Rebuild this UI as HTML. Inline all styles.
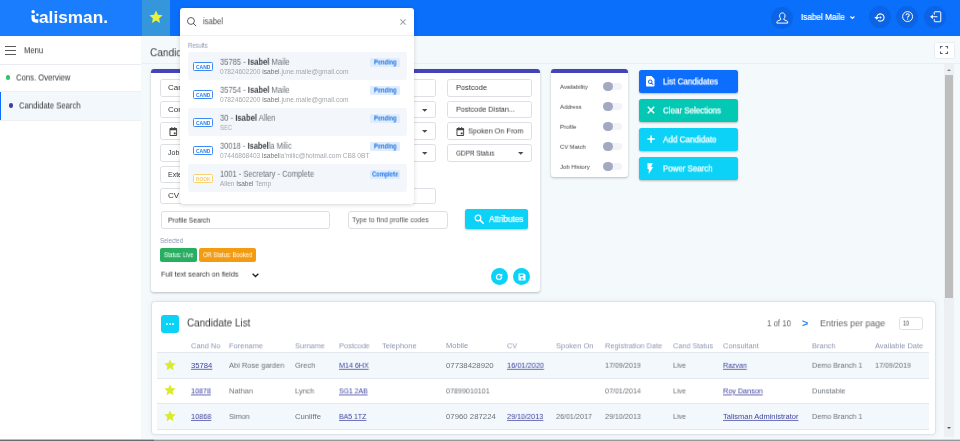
<!DOCTYPE html>
<html><head><meta charset="utf-8"><title>Talisman - Candidate Search</title>
<style>
*{box-sizing:border-box;margin:0;padding:0}
html,body{width:960px;height:441px;overflow:hidden;background:#f4f9fc;font-family:"Liberation Sans",sans-serif}
#app{position:relative;width:960px;height:441px;overflow:hidden}
.t{will-change:transform}
.a{position:absolute}
.t{position:absolute;z-index:2;white-space:nowrap;transform-origin:0 50%;display:block}
.t b{font-weight:700;color:#3c4148}
.t b.s{color:#70757c;font-weight:400}
.inp{position:absolute;background:#fff;border:1px solid #dcdfe3;border-radius:2.5px}
.card{position:absolute;background:#fff;border-radius:3px;box-shadow:0 1px 2.5px rgba(0,0,0,.25)}
.bar{position:absolute;left:0;top:0;right:0;height:3.5px;background:#4444b9;border-radius:3px 3px 0 0}
.btn{position:absolute;border-radius:2.5px;box-shadow:0 1px 2px rgba(0,0,0,.25)}
.rowbg{position:absolute;left:187.5px;width:219.5px;height:27.8px;background:#f3f6fb;border-radius:3px}
.cand{position:absolute;left:193px;width:20px;height:9px;border:1px solid #3d8bf2;border-radius:1.5px;background:#fff}
.pill{position:absolute;left:370.3px;width:29.7px;height:8.8px;background:#e0ecfc;border-radius:1.5px}
.tog{position:absolute;left:606px;width:16px;height:6.5px;background:#f1f3f8;border-radius:4px}
.knob{position:absolute;left:603px;width:9.5px;height:9.5px;background:#a2a9c1;border-radius:50%}
.circ{position:absolute;width:22px;height:22px;border-radius:50%;background:#0b63e6}
.trow{position:absolute;left:158px;width:771px;height:25.5px;border-bottom:1px solid #e4e9ee}
.caret{position:absolute;width:0;height:0;border-left:2.9px solid transparent;border-right:2.9px solid transparent;border-top:2.9px solid #4a4a4a}
svg{position:absolute;overflow:visible}
</style></head><body><div id="app">
<div class="a" style="left:0;top:0;width:960px;height:441px;z-index:1">
<div class="a" style="left:0;top:0;width:960px;height:36px;background:#0a6ffb"></div>
<div class="a" style="left:0;top:0;width:142px;height:36px;background:#1a7dfe"></div>
<div class="a" style="left:142px;top:0;width:28px;height:36px;background:#3596dc"></div>
<svg style="left:148.9px;top:10.4px" width="14" height="14" viewBox="0 0 24 24"><path fill="#e9f23a" d="M12 0.8l3.3 7.4 8 .8-6 5.4 1.7 7.9L12 18.2 5 22.3l1.7-7.9-6-5.4 8-.8z"/></svg>
<svg style="left:0;top:0" width="50" height="36" viewBox="0 0 50 36"><circle cx="33.1" cy="11.8" r="1.75" fill="#fff"/><circle cx="37.4" cy="14.800" r="1.300" fill="#fff"/><path d="M33.1 14.9V18Q33.100 21 36.100 21H38.300" fill="none" stroke="#fff" stroke-width="3.300"/></svg>
<div class="circ" style="left:771px;top:6.600000000000001px"></div>
<div class="circ" style="left:868.8px;top:6.100000000000001px"></div>
<div class="circ" style="left:896.3px;top:6.100000000000001px"></div>
<div class="circ" style="left:924px;top:6.100000000000001px"></div>
<svg style="left:776px;top:11.5px" width="12" height="12" viewBox="0 0 12 12"><path fill="none" stroke="#fff" stroke-width="1" stroke-linejoin="round" d="M6.3 0.9c1.7 0 2.7 1.2 2.7 3 0 1.300-0.500 2.300-1.200 3v0.700l3.300 1.500c0.400 0.200 0.600 0.500 0.600 0.900v1.100H0.900v-1.100c0-0.400 0.200-0.700 0.600-0.900l3.300-1.500v-0.700c-0.700-0.700-1.200-1.700-1.200-3 0-1.800 1-3 2.700-3z"/></svg>
<svg style="left:849.8px;top:16px" width="4.8" height="3.2" viewBox="0 0 4.8 3.2"><path fill="none" stroke="#fff" stroke-width="1.1" d="M0.400 0.500L2.400 2.500L4.400 0.500"/></svg>
<svg style="left:873.8px;top:11.5px" width="11" height="11" viewBox="0 0 22 22"><path fill="none" stroke="#fff" stroke-width="2.2" d="M5.500 11a7.300 7.300 0 1 1 2.600 5.600"/><path fill="#fff" d="M0.500 10h10l-5 5.500z"/><circle cx="12.800" cy="11" r="2.100" fill="#fff"/></svg>
<svg style="left:901.8px;top:11.4px" width="11.2" height="11.2" viewBox="0 0 22 22"><circle cx="11" cy="11" r="9.800" fill="none" stroke="#fff" stroke-width="1.900"/><path fill="none" stroke="#fff" stroke-width="2" d="M7.800 8.600c0-1.900 1.400-3 3.200-3s3.200 1.100 3.200 2.800c0 2.200-3.200 2.500-3.200 4.900"/><rect x="10" y="14.800" width="2.100" height="2.200" fill="#fff"/></svg>
<svg style="left:929.500px;top:11.2px" width="11.500" height="11.500" viewBox="0 0 23 23"><path fill="none" stroke="#fff" stroke-width="2" stroke-linejoin="round" d="M8.500 7V2.800a1.300 1.300 0 0 1 1.300-1.300h10.400a1.300 1.300 0 0 1 1.300 1.300v17.400a1.300 1.300 0 0 1-1.300 1.300H9.800a1.300 1.300 0 0 1-1.300-1.300V16"/><path fill="none" stroke="#fff" stroke-width="2" d="M15 11.500H4"/><path fill="#fff" d="M0.300 11.500L5.800 6.800v9.400z"/></svg>
<div class="a" style="left:0;top:36px;width:141px;height:405px;background:#fff"></div>
<div class="a" style="left:0;top:64px;width:141px;height:1px;background:#e9edf1"></div>
<div class="a" style="left:0;top:91px;width:141px;height:1px;background:#eef1f4"></div>
<div class="a" style="left:0;top:92px;width:141px;height:28px;background:#f3f8fd"></div>
<div class="a" style="left:0;top:92px;width:1px;height:28px;background:#0d6efd"></div>
<div class="a" style="left:0;top:120px;width:141px;height:1px;background:#eef1f4"></div>
<div class="a" style="left:4.5px;top:46px;width:11.2px;height:1px;background:#5a5a5a"></div>
<div class="a" style="left:4.5px;top:50px;width:11.2px;height:1px;background:#5a5a5a"></div>
<div class="a" style="left:4.5px;top:54px;width:11.2px;height:1px;background:#5a5a5a"></div>
<div class="a" style="left:5.9px;top:75.3px;width:4.6px;height:4.6px;border-radius:50%;background:#27c46b"></div>
<div class="a" style="left:8.6px;top:103.3px;width:4.6px;height:4.6px;border-radius:50%;background:#3b3fa8"></div>
<div class="a" style="left:142px;top:62.5px;width:818px;height:1px;background:#eaeff4"></div>
<div class="a" style="left:933.5px;top:41.5px;width:21px;height:17px;background:#fff;border:1px solid #e9edf1;border-radius:1.5px"></div>
<svg style="left:940px;top:46px" width="8" height="8" viewBox="0 0 8 8"><path fill="none" stroke="#56627a" stroke-width="1.1" d="M0.5 2.6V0.5H2.6M5.4 0.5H7.5V2.6M7.5 5.4V7.5H5.4M2.6 7.5H0.5V5.4"/></svg>
<div class="a" style="left:944.3px;top:64px;width:10px;height:373px;background:#edf0f2"></div>
<div class="a" style="left:945.2px;top:75px;width:7.8px;height:223px;background:#bdbdbd"></div>
<div class="a" style="left:946.8px;top:68.5px;border-left:2.4px solid transparent;border-right:2.4px solid transparent;border-bottom:2.6px solid #888;width:0;height:0"></div>
<div class="a" style="left:946.8px;top:426.5px;border-left:2.4px solid transparent;border-right:2.4px solid transparent;border-top:2.6px solid #555;width:0;height:0"></div>
<div class="card" style="left:151px;top:69px;width:389px;height:223px"><div class="bar"></div></div>
<div class="inp" style="left:160px;top:79px;width:130px;height:17.7px"></div>
<div class="inp" style="left:303px;top:79px;width:132.8px;height:17.7px"></div>
<div class="inp" style="left:160px;top:100.7px;width:130px;height:17.7px"></div>
<div class="inp" style="left:303px;top:100.7px;width:132.8px;height:17.7px"></div>
<div class="inp" style="left:160px;top:122.4px;width:130px;height:17.7px"></div>
<div class="inp" style="left:303px;top:122.4px;width:132.8px;height:17.7px"></div>
<div class="inp" style="left:160px;top:144.1px;width:130px;height:17.7px"></div>
<div class="inp" style="left:303px;top:144.1px;width:132.8px;height:17.7px"></div>
<div class="inp" style="left:160px;top:165.8px;width:130px;height:17.7px"></div>
<div class="inp" style="left:160px;top:187.5px;width:275.8px;height:16.5px"></div>
<div class="inp" style="left:447px;top:79px;width:85px;height:17.7px"></div>
<div class="inp" style="left:447px;top:100.7px;width:85px;height:17.7px"></div>
<div class="inp" style="left:447px;top:122.4px;width:85px;height:17.7px"></div>
<div class="inp" style="left:447px;top:144.1px;width:85px;height:17.7px"></div>
<svg style="left:422px;top:108.60000000000001px" width="5.4" height="2.8" viewBox="0 0 5.4 2.8"><path fill="#4a4a4a" d="M0 0H5.400L2.700 2.800z"/></svg>
<svg style="left:422px;top:130.3px" width="5.4" height="2.8" viewBox="0 0 5.4 2.8"><path fill="#4a4a4a" d="M0 0H5.400L2.700 2.800z"/></svg>
<svg style="left:422px;top:152.0px" width="5.4" height="2.8" viewBox="0 0 5.4 2.8"><path fill="#4a4a4a" d="M0 0H5.400L2.700 2.800z"/></svg>
<svg style="left:517.7px;top:152.0px" width="5.4" height="2.8" viewBox="0 0 5.4 2.8"><path fill="#4a4a4a" d="M0 0H5.400L2.700 2.800z"/></svg>
<svg style="left:169px;top:126.7px" width="8.6" height="9" viewBox="0 0 18 20" preserveAspectRatio="none"><path fill="#444" fill-rule="evenodd" d="M3 2h2V0h2v2h4V0h2v2h2a2 2 0 0 1 2 2v14a2 2 0 0 1-2 2H3a2 2 0 0 1-2-2V4a2 2 0 0 1 2-2zm0 5v11h12V7zm7 5h4v4h-4z"/></svg>
<svg style="left:455.8px;top:126.7px" width="8.6" height="9" viewBox="0 0 18 20" preserveAspectRatio="none"><path fill="#444" fill-rule="evenodd" d="M3 2h2V0h2v2h4V0h2v2h2a2 2 0 0 1 2 2v14a2 2 0 0 1-2 2H3a2 2 0 0 1-2-2V4a2 2 0 0 1 2-2zm0 5v11h12V7zm7 5h4v4h-4z"/></svg>
<div class="inp" style="left:161px;top:211px;width:169px;height:17.7px"></div>
<div class="inp" style="left:348.3px;top:211px;width:99.5px;height:17.7px;border-radius:3px"></div>
<div class="btn" style="left:465.3px;top:209px;width:62.5px;height:20px;background:#0dd2f7"></div>
<svg style="left:474px;top:214px" width="10" height="10" viewBox="0 0 20 20"><circle cx="8" cy="8" r="5.6" fill="none" stroke="#fff" stroke-width="2.6"/><path d="M12.2 12.2L18.5 18.5" stroke="#fff" stroke-width="3" stroke-linecap="round"/></svg>
<div class="a" style="left:159.8px;top:248.2px;width:37.5px;height:13.6px;background:#27ae60;border-radius:2px"></div>
<div class="a" style="left:198.8px;top:248.2px;width:57.7px;height:13.6px;background:#f39c12;border-radius:2px"></div>
<svg style="left:251.6px;top:272.9px" width="7" height="4.3" viewBox="0 0 6.6 4"><path d="M0.6 0.6L3.3 3.2L6 0.6" fill="none" stroke="#222" stroke-width="1.3"/></svg>
<div class="a" style="left:490.8px;top:268.3px;width:17px;height:17px;border-radius:50%;background:#0dd2f7"></div>
<div class="a" style="left:513.2px;top:268.3px;width:17px;height:17px;border-radius:50%;background:#0dd2f7"></div>
<svg style="left:495.3px;top:272.8px" width="8" height="8" viewBox="0 0 16 16"><path fill="none" stroke="#fff" stroke-width="2.6" d="M13.2 8a5.2 5.2 0 1 1-1.6-3.8"/><path fill="#fff" d="M14.5 1v6h-6z"/></svg>
<svg style="left:517.7px;top:272.8px" width="8" height="8" viewBox="0 0 16 16"><path fill="#fff" fill-rule="evenodd" d="M2 1h10l3 3v10a1 1 0 0 1-1 1H2a1 1 0 0 1-1-1V2a1 1 0 0 1 1-1zm1.5 2v3.5h7V3zm4.5 6a2.2 2.2 0 1 0 0 4.4 2.2 2.2 0 0 0 0-4.4z"/></svg>
<div class="card" style="left:551px;top:69px;width:77px;height:108.4px"><div class="bar"></div></div>
<div class="tog" style="top:83.35px"></div>
<div class="knob" style="top:81.85px"></div>
<div class="tog" style="top:103.35px"></div>
<div class="knob" style="top:101.85px"></div>
<div class="tog" style="top:123.35px"></div>
<div class="knob" style="top:121.85px"></div>
<div class="tog" style="top:143.35px"></div>
<div class="knob" style="top:141.85px"></div>
<div class="tog" style="top:163.35px"></div>
<div class="knob" style="top:161.85px"></div>
<div class="btn" style="left:639px;top:70px;width:98.6px;height:23px;background:#0d6efd"></div>
<div class="btn" style="left:639px;top:99px;width:98.6px;height:23px;background:#03c9b4"></div>
<div class="btn" style="left:639px;top:128px;width:98.6px;height:23px;background:#0dd2f7"></div>
<div class="btn" style="left:639px;top:157px;width:98.6px;height:23px;background:#0dd2f7"></div>
<svg style="left:645.5px;top:76px" width="9" height="10.5" viewBox="0 0 18 21"><path fill="#fff" fill-rule="evenodd" d="M2 0h9l6 6v13a2 2 0 0 1-2 2H2a2 2 0 0 1-2-2V2a2 2 0 0 1 2-2zm6.5 7a4.5 4.5 0 1 0 2.4 8.3l2.6 2.6 1.4-1.4-2.6-2.6A4.5 4.5 0 0 0 8.500 7zm0 2a2.500 2.500 0 1 1 0 5 2.500 2.500 0 0 1 0-5z"/></svg>
<svg style="left:646.7px;top:106.1px" width="8" height="8" viewBox="0 0 10 10"><path d="M1 1L9 9M9 1L1 9" stroke="#fff" stroke-width="1.9" stroke-linecap="butt"/></svg>
<svg style="left:646.6px;top:135px" width="8.2" height="8.2" viewBox="0 0 10 10"><path d="M5 0.500V9.500M0.500 5H9.500" stroke="#fff" stroke-width="1.9"/></svg>
<svg style="left:647px;top:162.500px" width="6.5" height="11" viewBox="0 0 13 22"><path fill="#fff" d="M1 0h10.500L8 8h4.500L3.500 22V12H1z"/></svg>
<div class="card" style="left:152px;top:302px;width:783px;height:132.4px;box-shadow:0 0 0 1px rgba(160,175,190,.18),0 0 5px 1px rgba(120,140,160,.13)"></div>
<div class="a" style="left:161px;top:315px;width:17.7px;height:17.8px;background:#0dd2f7;border-radius:3px"></div>
<div class="a" style="left:166.1px;top:323px;width:2.1px;height:2.1px;border-radius:50%;background:#fff"></div>
<div class="a" style="left:169.1px;top:323px;width:2.1px;height:2.1px;border-radius:50%;background:#fff"></div>
<div class="a" style="left:172.1px;top:323px;width:2.1px;height:2.1px;border-radius:50%;background:#fff"></div>
<div class="a" style="left:157px;top:352px;width:772px;height:26px;background:#f3f8fc"></div>
<div class="a" style="left:157px;top:404px;width:772px;height:25px;background:#f3f8fc"></div>
<div class="a" style="left:157px;top:352px;width:772px;height:1px;background:#e2e8ed"></div>
<div class="a" style="left:157px;top:378px;width:772px;height:1px;background:#e2e8ed"></div>
<div class="a" style="left:157px;top:403px;width:772px;height:1px;background:#e2e8ed"></div>
<div class="a" style="left:157px;top:429px;width:772px;height:1px;background:#e2e8ed"></div>
<svg style="left:164.2px;top:358.6px" width="12" height="12" viewBox="0 0 24 24"><path fill="#d9eb2c" d="M12 0.800l3.300 7.400 8 .8-6 5.400 1.700 7.900L12 18.200 5 22.300l1.700-7.900-6-5.400 8-.8z"/></svg>
<svg style="left:164.2px;top:384.2px" width="12" height="12" viewBox="0 0 24 24"><path fill="#d9eb2c" d="M12 0.800l3.300 7.400 8 .8-6 5.400 1.700 7.900L12 18.200 5 22.300l1.700-7.900-6-5.400 8-.8z"/></svg>
<svg style="left:164.2px;top:409.7px" width="12" height="12" viewBox="0 0 24 24"><path fill="#d9eb2c" d="M12 0.800l3.300 7.400 8 .8-6 5.400 1.700 7.900L12 18.200 5 22.300l1.700-7.900-6-5.400 8-.8z"/></svg>
<div class="inp" style="left:899.2px;top:317.4px;width:23.4px;height:12.2px;border-radius:2.5px"></div>
<div class="a" style="left:0;top:439px;width:960px;height:1px;background:#d3d5d6"></div>
<div class="a" style="left:0;top:439px;width:154px;height:1px;background:#bdbdbd"></div>
<div class="a" style="left:0;top:440px;width:960px;height:1px;background:#979797"></div>
<div class="a" style="left:0;top:440px;width:154px;height:1px;background:#6b6b6b"></div>
</div>
<div class="a" style="left:0;top:0;width:960px;height:441px;z-index:10">
<div class="a" style="left:180px;top:8.4px;width:234px;height:195.400px;background:#fff;border-radius:3px;box-shadow:0 1px 4px rgba(0,0,0,.16)"></div>
<div class="a" style="left:180px;top:35px;width:234px;height:1px;background:#eef0f3"></div>
<svg style="left:186.8px;top:16.8px" width="9.4" height="9.4" viewBox="0 0 18 18"><circle cx="7.6" cy="7.6" r="6.6" fill="none" stroke="#333" stroke-width="1.5"/><path d="M12.2 12.2L17 17" stroke="#333" stroke-width="1.6" stroke-linecap="round"/></svg>
<svg style="left:400.2px;top:18.6px" width="6" height="6" viewBox="0 0 6 6"><path d="M0.4 0.4L5.6 5.6M5.6 0.4L0.4 5.6" stroke="#a3a7ad" stroke-width="1.15"/></svg>
<div class="rowbg" style="top:52.2px"></div>
<div class="rowbg" style="top:108.2px"></div>
<div class="rowbg" style="top:164.2px"></div>
<div class="cand" style="top:61.6px"></div>
<div class="pill" style="top:58.3px"></div>
<div class="cand" style="top:89.60000000000001px"></div>
<div class="pill" style="top:86.3px"></div>
<div class="cand" style="top:117.60000000000001px"></div>
<div class="pill" style="top:114.3px"></div>
<div class="cand" style="top:145.6px"></div>
<div class="pill" style="top:142.3px"></div>
<div class="cand" style="top:173.6px;border-color:#f9d173"></div>
<div class="pill" style="top:170.3px"></div>
</div>
<span class="t" style="left:39px;top:7px;font-size:17px;line-height:21px;color:#fff;font-weight:700;transform:translateY(-0.30px) scaleX(1.0140);">alisman.</span>
<span class="t" style="left:801.3px;top:11px;font-size:8.5px;line-height:12px;color:#fff;font-weight:400;transform:scaleX(0.9634);-webkit-text-stroke:.2px #fff;">Isabel Maile</span>
<span class="t" style="left:23.5px;top:44px;font-size:9px;line-height:12px;color:#383838;font-weight:400;transform:translateY(0.20px) scaleX(0.8483);">Menu</span>
<span class="t" style="left:16.2px;top:71px;font-size:9px;line-height:12px;color:#383838;font-weight:400;transform:translateY(0.45px) scaleX(0.8547);">Cons. Overview</span>
<span class="t" style="left:19px;top:99px;font-size:9px;line-height:12px;color:#383838;font-weight:400;transform:translateY(0.45px) scaleX(0.8548);">Candidate Search</span>
<span class="t" style="left:150.3px;top:45px;font-size:11px;line-height:14px;color:#3c3c3c;font-weight:400;transform:translateY(0.20px) scaleX(0.9164);">Candidate Search</span>
<span class="t" style="left:168px;top:82px;font-size:8px;line-height:11px;color:#363636;font-weight:400;transform:scaleX(1.0000);">Candidate No</span>
<span class="t" style="left:168px;top:104px;font-size:8px;line-height:11px;color:#363636;font-weight:400;transform:translateY(-0.30px) scaleX(1.0000);">Consultant</span>
<span class="t" style="left:168.3px;top:148px;font-size:7px;line-height:9px;color:#363636;font-weight:400;transform:translateY(0.10px) scaleX(1.0000);">Job Title</span>
<span class="t" style="left:168.3px;top:170px;font-size:7px;line-height:9px;color:#363636;font-weight:400;transform:translateY(-0.20px) scaleX(1.0000);">External Ref</span>
<span class="t" style="left:168px;top:190px;font-size:8px;line-height:11px;color:#363636;font-weight:400;transform:translateY(0.10px) scaleX(1.0000);">CV Search</span>
<span class="t" style="left:455.6px;top:82px;font-size:8px;line-height:11px;color:#363636;font-weight:400;transform:scaleX(0.9263);">Postcode</span>
<span class="t" style="left:455.6px;top:104px;font-size:8px;line-height:11px;color:#363636;font-weight:400;transform:translateY(-0.30px) scaleX(0.9072);">Postcode Distan...</span>
<span class="t" style="left:468.3px;top:125px;font-size:8px;line-height:11px;color:#363636;font-weight:400;transform:translateY(0.40px) scaleX(0.9077);">Spoken On From</span>
<span class="t" style="left:455.6px;top:148px;font-size:7.5px;line-height:11px;color:#363636;font-weight:400;transform:translateY(-0.40px) scaleX(0.8530);">GDPR Status</span>
<span class="t" style="left:167.6px;top:215px;font-size:7.2px;line-height:11px;color:#363636;font-weight:400;transform:translateY(-0.40px) scaleX(0.9279);">Profile Search</span>
<span class="t" style="left:351.8px;top:214px;font-size:7.2px;line-height:11px;color:#555;font-weight:400;transform:translateY(0.20px) scaleX(0.9609);">Type to find profile codes</span>
<span class="t" style="left:488.6px;top:213px;font-size:8.6px;line-height:12px;color:#fff;font-weight:400;transform:translateY(-0.10px) scaleX(0.9473);-webkit-text-stroke:.25px #fff;">Attributes</span>
<span class="t" style="left:160px;top:236px;font-size:6.5px;line-height:9px;color:#8d97b3;font-weight:400;transform:scaleX(0.9092);">Selected</span>
<span class="t" style="left:163.7px;top:250px;font-size:6.3px;line-height:9px;color:#fff;font-weight:400;transform:translateY(0.20px) scaleX(0.8904);">Status: Live</span>
<span class="t" style="left:203px;top:250px;font-size:6.3px;line-height:9px;color:#fff;font-weight:400;transform:translateY(0.20px) scaleX(0.9090);">OR Status: Booked</span>
<span class="t" style="left:160.8px;top:269px;font-size:7.7px;line-height:11px;color:#363636;font-weight:400;transform:translateY(-0.40px) scaleX(0.9348);">Full text search on fields</span>
<span class="t" style="left:559.5px;top:82px;font-size:6.2px;line-height:9px;color:#3c3c3c;font-weight:400;transform:translateY(-0.20px) scaleX(0.9545);">Availability</span>
<span class="t" style="left:559.5px;top:102px;font-size:6.2px;line-height:9px;color:#3c3c3c;font-weight:400;transform:translateY(-0.20px) scaleX(0.9514);">Address</span>
<span class="t" style="left:559.5px;top:122px;font-size:6.2px;line-height:9px;color:#3c3c3c;font-weight:400;transform:translateY(-0.20px) scaleX(0.9460);">Profile</span>
<span class="t" style="left:559.5px;top:142px;font-size:6.2px;line-height:9px;color:#3c3c3c;font-weight:400;transform:translateY(-0.20px) scaleX(0.9458);">CV Match</span>
<span class="t" style="left:559.5px;top:162px;font-size:6.2px;line-height:9px;color:#3c3c3c;font-weight:400;transform:translateY(-0.20px) scaleX(0.9627);">Job History</span>
<span class="t" style="left:663px;top:75px;font-size:9px;line-height:12px;color:#fff;font-weight:400;transform:translateY(0.40px) scaleX(0.8864);-webkit-text-stroke:.25px #fff;">List Candidates</span>
<span class="t" style="left:663px;top:104px;font-size:9px;line-height:12px;color:#fff;font-weight:400;transform:translateY(0.40px) scaleX(0.8851);-webkit-text-stroke:.25px #fff;">Clear Selections</span>
<span class="t" style="left:663px;top:133px;font-size:9px;line-height:12px;color:#fff;font-weight:400;transform:translateY(0.40px) scaleX(0.9001);-webkit-text-stroke:.25px #fff;">Add Candidate</span>
<span class="t" style="left:663px;top:162px;font-size:9px;line-height:12px;color:#fff;font-weight:400;transform:translateY(0.40px) scaleX(0.8774);-webkit-text-stroke:.25px #fff;">Power Search</span>
<span class="t" style="left:187.3px;top:315px;font-size:10.8px;line-height:14px;color:#3c3c3c;font-weight:400;transform:translateY(0.50px) scaleX(0.9170);">Candidate List</span>
<span class="t" style="left:766.7px;top:317px;font-size:9px;line-height:12px;color:#666;font-weight:400;transform:translateY(0.30px) scaleX(0.8717);">1 of 10</span>
<span class="t" style="left:802px;top:316px;font-size:10.5px;line-height:14px;color:#2f88f6;font-weight:700;transform:translateY(-0.40px) scaleX(1.0260);">&gt;</span>
<span class="t" style="left:820px;top:317px;font-size:9px;line-height:12px;color:#666;font-weight:400;transform:translateY(0.30px) scaleX(0.9872);">Entries per page</span>
<span class="t" style="left:903.4px;top:319px;font-size:6.3px;line-height:9px;color:#444;font-weight:400;transform:translateY(-0.40px) scaleX(0.8695);">10</span>
<span class="t" style="left:190.7px;top:340px;font-size:7.5px;line-height:11px;color:#8d97b3;font-weight:400;transform:translateY(0.30px) scaleX(0.9896);">Cand No</span>
<span class="t" style="left:228.7px;top:340px;font-size:7.5px;line-height:11px;color:#8d97b3;font-weight:400;transform:translateY(0.30px) scaleX(0.9916);">Forename</span>
<span class="t" style="left:294.8px;top:340px;font-size:7.5px;line-height:11px;color:#8d97b3;font-weight:400;transform:translateY(0.30px) scaleX(0.9758);">Surname</span>
<span class="t" style="left:339.3px;top:340px;font-size:7.5px;line-height:11px;color:#8d97b3;font-weight:400;transform:translateY(0.30px) scaleX(0.9814);">Postcode</span>
<span class="t" style="left:382.4px;top:340px;font-size:7.5px;line-height:11px;color:#8d97b3;font-weight:400;transform:translateY(0.30px) scaleX(0.9993);">Telephone</span>
<span class="t" style="left:445.8px;top:340px;font-size:7.5px;line-height:11px;color:#8d97b3;font-weight:400;transform:translateY(0.30px) scaleX(1.0048);">Mobile</span>
<span class="t" style="left:507px;top:340px;font-size:7.5px;line-height:11px;color:#8d97b3;font-weight:400;transform:translateY(0.30px) scaleX(0.9595);">CV</span>
<span class="t" style="left:556px;top:340px;font-size:7.5px;line-height:11px;color:#8d97b3;font-weight:400;transform:translateY(0.30px) scaleX(0.9992);">Spoken On</span>
<span class="t" style="left:604.7px;top:340px;font-size:7.5px;line-height:11px;color:#8d97b3;font-weight:400;transform:translateY(0.30px) scaleX(0.9887);">Registration Date</span>
<span class="t" style="left:672.9px;top:340px;font-size:7.5px;line-height:11px;color:#8d97b3;font-weight:400;transform:translateY(0.30px) scaleX(0.9714);">Cand Status</span>
<span class="t" style="left:723.2px;top:340px;font-size:7.5px;line-height:11px;color:#8d97b3;font-weight:400;transform:translateY(0.30px) scaleX(0.9983);">Consultant</span>
<span class="t" style="left:812px;top:340px;font-size:7.5px;line-height:11px;color:#8d97b3;font-weight:400;transform:translateY(0.30px) scaleX(0.9888);">Branch</span>
<span class="t" style="left:875.3px;top:340px;font-size:7.5px;line-height:11px;color:#8d97b3;font-weight:400;transform:translateY(0.30px) scaleX(0.9993);">Available Date</span>
<span class="t" style="left:190.7px;top:360px;font-size:7.5px;line-height:11px;color:#3b3f9f;font-weight:400;transform:translateY(-0.20px) scaleX(1.0211);text-decoration:underline;text-decoration-thickness:0.7px;text-underline-offset:1px;text-decoration-color:rgba(59,63,159,.75);">35784</span>
<span class="t" style="left:228.7px;top:360px;font-size:7.5px;line-height:11px;color:#6d7278;font-weight:400;transform:translateY(-0.20px) scaleX(0.9897);">Abi Rose garden</span>
<span class="t" style="left:294.8px;top:360px;font-size:7.5px;line-height:11px;color:#6d7278;font-weight:400;transform:translateY(-0.20px) scaleX(0.9884);">Grech</span>
<span class="t" style="left:339.3px;top:360px;font-size:7.5px;line-height:11px;color:#3b3f9f;font-weight:400;transform:translateY(-0.20px) scaleX(0.9499);text-decoration:underline;text-decoration-thickness:0.7px;text-underline-offset:1px;text-decoration-color:rgba(59,63,159,.75);">M14 6HX</span>
<span class="t" style="left:445.8px;top:360px;font-size:7.5px;line-height:11px;color:#6d7278;font-weight:400;transform:translateY(-0.20px) scaleX(1.0394);">07738428920</span>
<span class="t" style="left:507px;top:360px;font-size:7.5px;line-height:11px;color:#3b3f9f;font-weight:400;transform:translateY(-0.20px) scaleX(0.9854);text-decoration:underline;text-decoration-thickness:0.7px;text-underline-offset:1px;text-decoration-color:rgba(59,63,159,.75);">16/01/2020</span>
<span class="t" style="left:604.7px;top:360px;font-size:7.5px;line-height:11px;color:#6d7278;font-weight:400;transform:translateY(-0.20px) scaleX(0.9561);">17/09/2019</span>
<span class="t" style="left:672.9px;top:360px;font-size:7.5px;line-height:11px;color:#6d7278;font-weight:400;transform:translateY(-0.20px) scaleX(0.9516);">Live</span>
<span class="t" style="left:723.2px;top:360px;font-size:7.5px;line-height:11px;color:#3b3f9f;font-weight:400;transform:translateY(-0.20px) scaleX(0.9356);text-decoration:underline;text-decoration-thickness:0.7px;text-underline-offset:1px;text-decoration-color:rgba(59,63,159,.75);">Razvan</span>
<span class="t" style="left:812px;top:360px;font-size:7.5px;line-height:11px;color:#6d7278;font-weight:400;transform:translateY(-0.20px) scaleX(0.9653);">Demo Branch 1</span>
<span class="t" style="left:875.3px;top:360px;font-size:7.5px;line-height:11px;color:#6d7278;font-weight:400;transform:translateY(-0.20px) scaleX(0.9588);">17/09/2019</span>
<span class="t" style="left:190.7px;top:385px;font-size:7.5px;line-height:11px;color:#3b3f9f;font-weight:400;transform:translateY(0.40px) scaleX(0.9540);text-decoration:underline;text-decoration-thickness:0.7px;text-underline-offset:1px;text-decoration-color:rgba(59,63,159,.75);">10878</span>
<span class="t" style="left:228.7px;top:385px;font-size:7.5px;line-height:11px;color:#6d7278;font-weight:400;transform:translateY(0.40px) scaleX(0.9881);">Nathan</span>
<span class="t" style="left:294.8px;top:385px;font-size:7.5px;line-height:11px;color:#6d7278;font-weight:400;transform:translateY(0.40px) scaleX(0.9722);">Lynch</span>
<span class="t" style="left:339.3px;top:385px;font-size:7.5px;line-height:11px;color:#3b3f9f;font-weight:400;transform:translateY(0.40px) scaleX(0.9175);text-decoration:underline;text-decoration-thickness:0.7px;text-underline-offset:1px;text-decoration-color:rgba(59,63,159,.75);">SG1 2AB</span>
<span class="t" style="left:445.8px;top:385px;font-size:7.5px;line-height:11px;color:#6d7278;font-weight:400;transform:translateY(0.40px) scaleX(0.9523);">07899010101</span>
<span class="t" style="left:604.7px;top:385px;font-size:7.5px;line-height:11px;color:#6d7278;font-weight:400;transform:translateY(0.40px) scaleX(0.9561);">07/01/2014</span>
<span class="t" style="left:672.9px;top:385px;font-size:7.5px;line-height:11px;color:#6d7278;font-weight:400;transform:translateY(0.40px) scaleX(0.9516);">Live</span>
<span class="t" style="left:723.2px;top:385px;font-size:7.5px;line-height:11px;color:#3b3f9f;font-weight:400;transform:translateY(0.40px) scaleX(0.9641);text-decoration:underline;text-decoration-thickness:0.7px;text-underline-offset:1px;text-decoration-color:rgba(59,63,159,.75);">Roy Danson</span>
<span class="t" style="left:812px;top:385px;font-size:7.5px;line-height:11px;color:#6d7278;font-weight:400;transform:translateY(0.40px) scaleX(0.9917);">Dunstable</span>
<span class="t" style="left:190.7px;top:411px;font-size:7.5px;line-height:11px;color:#3b3f9f;font-weight:400;transform:translateY(-0.10px) scaleX(0.9732);text-decoration:underline;text-decoration-thickness:0.7px;text-underline-offset:1px;text-decoration-color:rgba(59,63,159,.75);">10868</span>
<span class="t" style="left:228.7px;top:411px;font-size:7.5px;line-height:11px;color:#6d7278;font-weight:400;transform:translateY(-0.10px) scaleX(0.9687);">Simon</span>
<span class="t" style="left:294.8px;top:411px;font-size:7.5px;line-height:11px;color:#6d7278;font-weight:400;transform:translateY(-0.10px) scaleX(1.0238);">Cunliffe</span>
<span class="t" style="left:339.3px;top:411px;font-size:7.5px;line-height:11px;color:#3b3f9f;font-weight:400;transform:translateY(-0.10px) scaleX(0.9225);text-decoration:underline;text-decoration-thickness:0.7px;text-underline-offset:1px;text-decoration-color:rgba(59,63,159,.75);">BA5 1TZ</span>
<span class="t" style="left:445.8px;top:411px;font-size:7.5px;line-height:11px;color:#6d7278;font-weight:400;transform:translateY(-0.10px) scaleX(1.0382);">07960 287224</span>
<span class="t" style="left:507px;top:411px;font-size:7.5px;line-height:11px;color:#3b3f9f;font-weight:400;transform:translateY(-0.10px) scaleX(0.9668);text-decoration:underline;text-decoration-thickness:0.7px;text-underline-offset:1px;text-decoration-color:rgba(59,63,159,.75);">29/10/2013</span>
<span class="t" style="left:556px;top:411px;font-size:7.5px;line-height:11px;color:#6d7278;font-weight:400;transform:translateY(-0.10px) scaleX(0.9588);">26/01/2017</span>
<span class="t" style="left:604.7px;top:411px;font-size:7.5px;line-height:11px;color:#6d7278;font-weight:400;transform:translateY(-0.10px) scaleX(0.9561);">29/10/2013</span>
<span class="t" style="left:672.9px;top:411px;font-size:7.5px;line-height:11px;color:#6d7278;font-weight:400;transform:translateY(-0.10px) scaleX(0.9516);">Live</span>
<span class="t" style="left:723.2px;top:411px;font-size:7.5px;line-height:11px;color:#3b3f9f;font-weight:400;transform:translateY(-0.10px) scaleX(0.9993);text-decoration:underline;text-decoration-thickness:0.7px;text-underline-offset:1px;text-decoration-color:rgba(59,63,159,.75);">Talisman Administrator</span>
<span class="t" style="left:812px;top:411px;font-size:7.5px;line-height:11px;color:#6d7278;font-weight:400;transform:translateY(-0.10px) scaleX(0.9653);">Demo Branch 1</span>
<span class="t" style="left:203.2px;top:16px;font-size:8.2px;line-height:11px;color:#4a4a4a;font-weight:400;transform:translateY(0.20px) scaleX(0.9343);z-index:11;">isabel</span>
<span class="t" style="left:187.5px;top:41px;font-size:6.3px;line-height:9px;color:#8d97b3;font-weight:400;transform:translateY(-0.20px) scaleX(0.9381);z-index:11;">Results</span>
<span class="t" style="left:220.4px;top:56px;font-size:8.6px;line-height:12px;color:#6b7078;font-weight:400;transform:translateY(-0.20px) scaleX(0.8826);z-index:11;">35785 - <b>Isabel</b> Maile</span>
<span class="t" style="left:220.4px;top:67px;font-size:6.4px;line-height:9px;color:#a3a7ad;font-weight:400;transform:translateY(-0.10px) scaleX(1.0349);z-index:11;">07824602200 <b class="s">isabel</b>.june.maile@gmail.com</span>
<span class="t" style="left:196px;top:64px;font-size:4.8px;line-height:7px;color:#2b7cec;font-weight:700;transform:scaleX(1.0318);z-index:11;">CAND</span>
<span class="t" style="left:374px;top:57px;font-size:6.3px;line-height:9px;color:#1a73e8;font-weight:700;transform:translateY(0.50px) scaleX(0.9057);z-index:11;">Pending</span>
<span class="t" style="left:220.4px;top:84px;font-size:8.6px;line-height:12px;color:#6b7078;font-weight:400;transform:translateY(-0.20px) scaleX(0.8826);z-index:11;">35754 - <b>Isabel</b> Maile</span>
<span class="t" style="left:220.4px;top:95px;font-size:6.4px;line-height:9px;color:#a3a7ad;font-weight:400;transform:translateY(-0.10px) scaleX(1.0349);z-index:11;">07824602200 <b class="s">isabel</b>.june.maile@gmail.com</span>
<span class="t" style="left:196px;top:92px;font-size:4.8px;line-height:7px;color:#2b7cec;font-weight:700;transform:scaleX(1.0318);z-index:11;">CAND</span>
<span class="t" style="left:374px;top:85px;font-size:6.3px;line-height:9px;color:#1a73e8;font-weight:700;transform:translateY(0.50px) scaleX(0.9057);z-index:11;">Pending</span>
<span class="t" style="left:220.4px;top:112px;font-size:8.6px;line-height:12px;color:#6b7078;font-weight:400;transform:translateY(-0.20px) scaleX(0.8880);z-index:11;">30 - <b>Isabel</b> Allen</span>
<span class="t" style="left:220.4px;top:123px;font-size:6.4px;line-height:9px;color:#a3a7ad;font-weight:400;transform:translateY(-0.10px) scaleX(0.9208);z-index:11;">SEC</span>
<span class="t" style="left:196px;top:120px;font-size:4.8px;line-height:7px;color:#2b7cec;font-weight:700;transform:scaleX(1.0318);z-index:11;">CAND</span>
<span class="t" style="left:374px;top:113px;font-size:6.3px;line-height:9px;color:#1a73e8;font-weight:700;transform:translateY(0.50px) scaleX(0.9057);z-index:11;">Pending</span>
<span class="t" style="left:220.4px;top:140px;font-size:8.6px;line-height:12px;color:#6b7078;font-weight:400;transform:translateY(-0.20px) scaleX(0.8712);z-index:11;">30018 - <b>Isabel</b>la Milic</span>
<span class="t" style="left:220.4px;top:151px;font-size:6.4px;line-height:9px;color:#a3a7ad;font-weight:400;transform:translateY(-0.10px) scaleX(1.0292);z-index:11;">07446868403 <b class="s">isabel</b>la'milic@hotmail.com CB8 0BT</span>
<span class="t" style="left:196px;top:148px;font-size:4.8px;line-height:7px;color:#2b7cec;font-weight:700;transform:scaleX(1.0318);z-index:11;">CAND</span>
<span class="t" style="left:374px;top:141px;font-size:6.3px;line-height:9px;color:#1a73e8;font-weight:700;transform:translateY(0.50px) scaleX(0.9057);z-index:11;">Pending</span>
<span class="t" style="left:220.4px;top:168px;font-size:8.6px;line-height:12px;color:#6b7078;font-weight:400;transform:translateY(-0.20px) scaleX(0.8717);z-index:11;">1001 - Secretary - Complete</span>
<span class="t" style="left:220.4px;top:179px;font-size:6.4px;line-height:9px;color:#a3a7ad;font-weight:400;transform:translateY(-0.10px) scaleX(1.0132);z-index:11;">Allen <b class="s">Isabel</b> Temp</span>
<span class="t" style="left:196px;top:176px;font-size:4.8px;line-height:7px;color:#f8cb62;font-weight:700;transform:scaleX(0.9926);z-index:11;">BOOK</span>
<span class="t" style="left:372px;top:169px;font-size:6.3px;line-height:9px;color:#1a73e8;font-weight:700;transform:translateY(0.50px) scaleX(0.9128);z-index:11;">Complete</span>
</div></body></html>
